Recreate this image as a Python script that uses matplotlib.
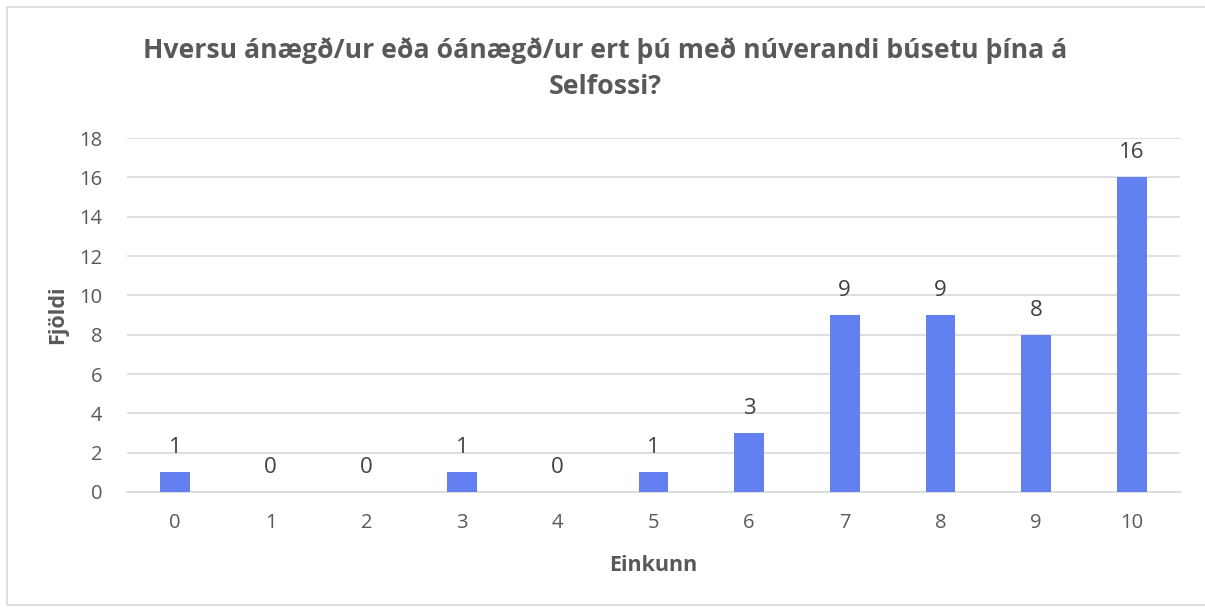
import matplotlib.pyplot as plt
from matplotlib.patches import Rectangle

# Survey answers: score 0-10 and how many gave each score
scores = ["0", "1", "2", "3", "4", "5", "6", "7", "8", "9", "10"]
counts = [1, 0, 0, 1, 0, 1, 3, 9, 9, 8, 16]

title = "Hversu ánægð/ur eða óánægð/ur ert þú með núverandi búsetu þína á\nSelfossi?"
bar_color = "#6380F0"
text_gray = "#595959"

plt.rcParams["font.family"] = ["Open Sans", "DejaVu Sans"]

fig = plt.figure(figsize=(12.05, 6.08), dpi=100)
ax = fig.add_axes([0.1054, 0.1908, 0.8736, 0.5822])

x = range(len(scores))
bars = ax.bar(x, counts, width=0.31, color=bar_color, zorder=3)

for xi, c in zip(x, counts):
    ax.annotate(str(c), (xi, c), xytext=(0, 10), textcoords="offset points",
                ha="center", va="bottom", fontsize=16, color="#404040")

ax.set_xlim(-0.5, len(scores) - 0.5)
ax.set_ylim(0, 18)
ax.set_yticks(range(0, 19, 2))
ax.set_xticks(list(x))
ax.set_xticklabels(scores)
ax.tick_params(axis="both", length=0, labelsize=14.5, labelcolor=text_gray)
ax.tick_params(axis="x", pad=15)
ax.tick_params(axis="y", pad=18)

ax.grid(axis="y", color="#d9d9d9", linewidth=1.2, zorder=0)
for side in ["top", "right", "left"]:
    ax.spines[side].set_visible(False)
ax.spines["bottom"].set_color("#d9d9d9")
ax.spines["bottom"].set_linewidth(1.2)

ax.set_xlabel("Einkunn", fontsize=15.5, fontweight="bold", color=text_gray, labelpad=16)
ax.set_ylabel("Fjöldi", fontsize=15.5, fontweight="bold", color=text_gray, labelpad=8)

fig.text(0.502, 0.8865, title, ha="center", va="center", fontsize=19.2,
         fontweight="bold", color=text_gray, linespacing=1.5)

# thin frame around the chart area
fig.patches.append(Rectangle((7 / 1205, 3 / 608), 1.0, 598 / 608, transform=fig.transFigure,
                             fill=False, edgecolor="#d9d9d9", linewidth=1.2))

fig.savefig("out.png", dpi=100)
